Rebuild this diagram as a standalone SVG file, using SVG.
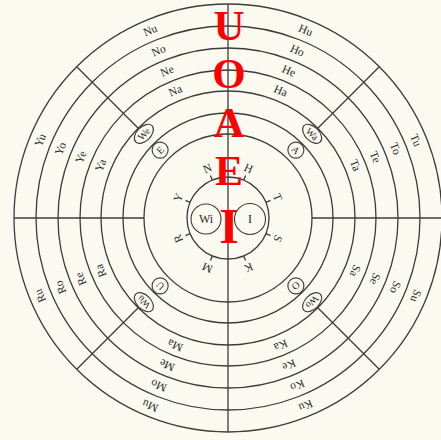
<svg xmlns="http://www.w3.org/2000/svg" width="441" height="440" viewBox="0 0 441 440">
<style>
.ln{fill:none;stroke:#3c3c3c;stroke-width:1.3}
.lb{font-family:"Liberation Serif",serif;font-size:11.5px;fill:#2a2a2a;text-anchor:middle}
.sm{font-family:"Liberation Serif",serif;font-size:10px;fill:#2a2a2a;text-anchor:middle}
.ctr{font-family:"Liberation Serif",serif;font-size:12px;fill:#2a2a2a;text-anchor:middle}
.red{font-family:"Liberation Serif",serif;font-weight:bold;fill:#ff0000;text-anchor:middle}
.bub{fill:#fafaf0;stroke:#3c3c3c;stroke-width:1.1}
</style>
<rect width="441" height="440" fill="#fafaf0"/>
<g id="rings" transform="translate(228,218)">
<circle class="ln" r="214"/>
<circle class="ln" r="192"/>
<circle class="ln" r="170"/>
<circle class="ln" r="148"/>
<circle class="ln" r="127"/>
<circle class="ln" r="105"/>
<circle class="ln" r="84"/>
<circle class="ln" r="41"/>
</g>
<g id="connectors" transform="translate(228,218)">
<line class="ln" x1="0" y1="-214" x2="0" y2="214"/>
<line class="ln" x1="-214" y1="0" x2="-84" y2="0"/>
<line class="ln" x1="84" y1="0" x2="214" y2="0"/>
<line class="ln" x1="-90" y1="-90" x2="-151" y2="-151"/>
<line class="ln" x1="90" y1="-90" x2="151" y2="-151"/>
<line class="ln" x1="90" y1="90" x2="151" y2="151"/>
<line class="ln" x1="-90" y1="90" x2="-151" y2="151"/>
<g id="ticks">
<line class="ln" x1="0" y1="-41" x2="0" y2="-46" transform="rotate(-22.5)"/>
<line class="ln" x1="0" y1="-41" x2="0" y2="-46" transform="rotate(22.5)"/>
<line class="ln" x1="0" y1="-41" x2="0" y2="-46" transform="rotate(67.5)"/>
<line class="ln" x1="0" y1="-41" x2="0" y2="-46" transform="rotate(112.5)"/>
<line class="ln" x1="0" y1="-41" x2="0" y2="-46" transform="rotate(157.5)"/>
<line class="ln" x1="0" y1="-41" x2="0" y2="-46" transform="rotate(202.5)"/>
<line class="ln" x1="0" y1="-41" x2="0" y2="-46" transform="rotate(247.5)"/>
<line class="ln" x1="0" y1="-41" x2="0" y2="-46" transform="rotate(292.5)"/>
</g>
</g>
<g id="sector-labels" transform="translate(228,218)">
<g id="sector-N" transform="rotate(-22.5)"><text class="lb" y="-134">Na</text><text class="lb" y="-155.5">Ne</text><text class="lb" y="-177.5">No</text><text class="lb" y="-199.5">Nu</text></g>
<g id="sector-H" transform="rotate(22.5)"><text class="lb" y="-134">Ha</text><text class="lb" y="-155.5">He</text><text class="lb" y="-177.5">Ho</text><text class="lb" y="-199.5">Hu</text></g>
<g id="sector-T" transform="rotate(67.5)"><text class="lb" y="-134">Ta</text><text class="lb" y="-155.5">Te</text><text class="lb" y="-177.5">To</text><text class="lb" y="-199.5">Tu</text></g>
<g id="sector-S" transform="rotate(112.5)"><text class="lb" y="-134">Sa</text><text class="lb" y="-155.5">Se</text><text class="lb" y="-177.5">So</text><text class="lb" y="-199.5">Su</text></g>
<g id="sector-K" transform="rotate(157.5)"><text class="lb" y="-134">Ka</text><text class="lb" y="-155.5">Ke</text><text class="lb" y="-177.5">Ko</text><text class="lb" y="-199.5">Ku</text></g>
<g id="sector-M" transform="rotate(202.5)"><text class="lb" y="-134">Ma</text><text class="lb" y="-155.5">Me</text><text class="lb" y="-177.5">Mo</text><text class="lb" y="-199.5">Mu</text></g>
<g id="sector-R" transform="rotate(247.5)"><text class="lb" y="-134">Ra</text><text class="lb" y="-155.5">Re</text><text class="lb" y="-177.5">Ro</text><text class="lb" y="-199.5">Ru</text></g>
<g id="sector-Y" transform="rotate(292.5)"><text class="lb" y="-134">Ya</text><text class="lb" y="-155.5">Ye</text><text class="lb" y="-177.5">Yo</text><text class="lb" y="-199.5">Yu</text></g>
</g>
<g id="consonants" transform="translate(228,218)">
<text class="lb" y="-50" transform="rotate(-22.5)">N</text>
<text class="lb" y="-50" transform="rotate(22.5)">H</text>
<text class="lb" y="-50" transform="rotate(67.5)">T</text>
<text class="lb" y="-50" transform="rotate(112.5)">S</text>
<text class="lb" y="-50" transform="rotate(157.5)">K</text>
<text class="lb" y="-50" transform="rotate(202.5)">M</text>
<text class="lb" y="-50" transform="rotate(247.5)">R</text>
<text class="lb" y="-50" transform="rotate(292.5)">Y</text>
</g>
<g id="vowels" transform="translate(228,218)">
<g id="vowel-E" transform="rotate(-45)"><circle class="bub" cy="-96" r="8"/><text class="sm" y="-92.5">E</text></g>
<g id="vowel-A" transform="rotate(45)"><circle class="bub" cy="-96" r="8"/><text class="sm" y="-92.5">A</text></g>
<g id="vowel-O" transform="rotate(135)"><circle class="bub" cy="-96" r="8"/><text class="sm" y="-92.5">O</text></g>
<g id="vowel-U" transform="rotate(225)"><circle class="bub" cy="-96" r="8"/><text class="sm" y="-92.5">U</text></g>
</g>
<g id="w-syllables" transform="translate(228,218)">
<g id="w-We" transform="rotate(-45)"><ellipse class="bub" cy="-119" rx="11.5" ry="7"/><text class="sm" y="-115.5">We</text></g>
<g id="w-Wa" transform="rotate(45)"><ellipse class="bub" cy="-119" rx="11.5" ry="7"/><text class="sm" y="-115.5">Wa</text></g>
<g id="w-Wo" transform="rotate(135)"><ellipse class="bub" cy="-119" rx="11.5" ry="7"/><text class="sm" y="-115.5">Wo</text></g>
<g id="w-Wu" transform="rotate(225)"><ellipse class="bub" cy="-119" rx="11.5" ry="7"/><text class="sm" y="-115.5">Wu</text></g>
</g>
<g id="center-Wi"><circle class="bub" cx="206" cy="219" r="15"/><text class="ctr" x="206" y="223">Wi</text></g>
<g id="center-I"><circle class="bub" cx="250" cy="219" r="15.5"/><text class="ctr" x="250" y="223">I</text></g>
<g id="red-vowels">
<text class="red" x="229" y="40" font-size="43">U</text>
<text class="red" x="229" y="88" font-size="43">O</text>
<text class="red" x="229" y="137" font-size="43">A</text>
<text class="red" x="229" y="185" font-size="42">E</text>
<text class="red" x="229" y="243" font-size="50">I</text>
</g>
</svg>
